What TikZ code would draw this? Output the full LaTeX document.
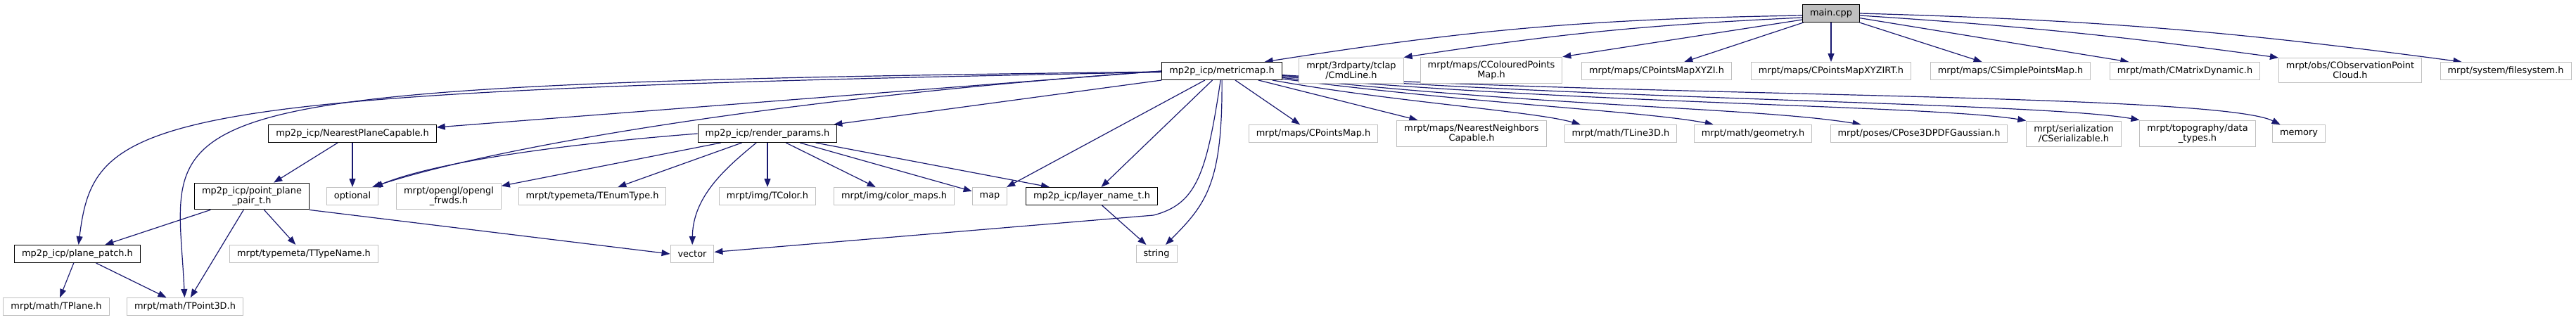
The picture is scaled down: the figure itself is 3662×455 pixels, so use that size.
\documentclass[tikz,border=0pt]{standalone}
\usepackage{fontspec}
\setmainfont{DejaVu Sans}
\usepackage{tikz}
\usetikzlibrary{arrows.meta,backgrounds}
\definecolor{edgeblue}{HTML}{191970}
\definecolor{boxgray}{HTML}{BFBFBF}

\begin{document}
\begin{tikzpicture}[x=1pt, y=-1pt, >={Triangle[length=12pt,width=9pt]},
  hdr/.style={draw=boxgray, line width=1pt, fill=white, align=center, inner xsep=10.5pt,
    inner ysep=5.5pt, minimum height=25pt, font=\fontsize{12.9}{14}\selectfont},
  proj/.style={hdr, draw=black},
  dep/.style={->, draw=edgeblue, line width=1.2pt}]
  \useasboundingbox (0,0) rectangle (3662,455);

  % top row
  \node[proj, fill=boxgray] (main) at (2603,19) {main.cpp};
  \node[proj] (metricmap) at (1737,101) {mp2p\_icp/metricmap.h};
  \node[hdr] (cmdline) at (1921,100) {mrpt/3rdparty/tclap\\/CmdLine.h};
  \node[hdr] (coloured) at (2120,100) {mrpt/maps/CColouredPoints\\Map.h};
  \node[hdr] (xyzi) at (2355,101) {mrpt/maps/CPointsMapXYZI.h};
  \node[hdr] (xyzirt) at (2603,101) {mrpt/maps/CPointsMapXYZIRT.h};
  \node[hdr] (simple) at (2858,101) {mrpt/maps/CSimplePointsMap.h};
  \node[hdr] (cmatrix) at (3106,101) {mrpt/math/CMatrixDynamic.h};
  \node[hdr] (obspc) at (3341,100) {mrpt/obs/CObservationPoint\\Cloud.h};
  \node[hdr] (filesys) at (3562,101) {mrpt/system/filesystem.h};

  % second row
  \node[proj] (npc) at (501,190) {mp2p\_icp/NearestPlaneCapable.h};
  \node[proj] (render) at (1091,190) {mp2p\_icp/render\_params.h};
  \node[hdr] (cpointsmap) at (1867,190) {mrpt/maps/CPointsMap.h};
  \node[hdr] (nncap) at (2092,190) {mrpt/maps/NearestNeighbors\\Capable.h};
  \node[hdr] (tline) at (2304,190) {mrpt/math/TLine3D.h};
  \node[hdr] (geometry) at (2492,190) {mrpt/math/geometry.h};
  \node[hdr] (cpose) at (2728,190) {mrpt/poses/CPose3DPDFGaussian.h};
  \node[hdr] (cserial) at (2948,190) {mrpt/serialization\\/CSerializable.h};
  \node[hdr] (topo) at (3124,190) {mrpt/topography/data\\\_types.h};
  \node[hdr] (memory) at (3268,190) {memory};

  % third row
  \node[proj] (ppp) at (358,279) {mp2p\_icp/point\_plane\\\_pair\_t.h};
  \node[hdr] (optional) at (501,279) {optional};
  \node[hdr] (opengl) at (638,279) {mrpt/opengl/opengl\\\_frwds.h};
  \node[hdr] (tenum) at (842,279) {mrpt/typemeta/TEnumType.h};
  \node[hdr] (tcolor) at (1091,279) {mrpt/img/TColor.h};
  \node[hdr] (colormaps) at (1271,279) {mrpt/img/color\_maps.h};
  \node[hdr] (map) at (1407,279) {map};
  \node[proj] (layer) at (1552,279) {mp2p\_icp/layer\_name\_t.h};

  % bottom rows
  \node[proj] (planepatch) at (110,361) {mp2p\_icp/plane\_patch.h};
  \node[hdr] (ttypename) at (432,361) {mrpt/typemeta/TTypeName.h};
  \node[hdr] (vector) at (984,361) {vector};
  \node[hdr] (string) at (1644,361) {string};
  \node[hdr] (tplane) at (80,436) {mrpt/math/TPlane.h};
  \node[hdr] (tpoint) at (263,436) {mrpt/math/TPoint3D.h};

  \begin{scope}[on background layer]
  % main.cpp
  \draw[dep] ([yshift=-3pt]main.west) to[bend right=4] ([xshift=-25pt]metricmap.north east);
  \draw[dep] ([yshift=-6pt]main.west) to[bend right=3] (cmdline.north east);
  \draw[dep] ([yshift=-9pt]main.west) -- (coloured.north east);
  \draw[dep] (main) -- (xyzi);
  \draw[dep] (main) -- (xyzirt);
  \draw[dep] (main) -- (simple);
  \draw[dep] (main) -- (cmatrix);
  \draw[dep] ([yshift=-3pt]main.east) to[bend left=2] (obspc.north west);
  \draw[dep] (main.east) to[bend left=3] ([xshift=31pt]filesys.north west);

  % metricmap.h, left side
  \draw[dep] (metricmap) .. controls (200,130) and (135,160) .. (planepatch);
  \draw[dep] (metricmap) .. controls (150,120) and (250,150) .. (tpoint);
  \draw[dep] (metricmap.west) -- ([yshift=9pt]npc.east);
  \draw[dep] (metricmap.west) .. controls (1100,140) and (700,210) .. ([xshift=-9pt]optional.north east);
  \draw[dep] (metricmap.south west) -- ([xshift=-5pt]render.north east);
  \draw[dep] (metricmap) .. controls (1715,250) and (1700,290) .. (1640,306) -- (vector);
  \draw[dep] (metricmap) .. controls (1738,260) and (1715,290) .. (string);
  \draw[dep] (metricmap) -- (layer);
  \draw[dep] (metricmap) -- (map);
  % metricmap.h, right side
  \draw[dep] (metricmap) -- (cpointsmap);
  \draw[dep] (metricmap) -- (nncap);
  \draw[dep] (metricmap) .. controls (1980,145) and (2180,158) .. ([xshift=23pt]tline.north west);
  \draw[dep] (metricmap) .. controls (2100,148) and (2340,158) .. ([xshift=28pt]geometry.north west);
  \draw[dep] (metricmap) .. controls (2200,152) and (2500,153) .. ([xshift=44pt]cpose.north west);
  \draw[dep] (metricmap) .. controls (2250,148) and (2750,150) .. (cserial.north west);
  \draw[dep] (metricmap) .. controls (2300,143) and (2900,146) .. (topo.north west);
  \draw[dep] (metricmap) .. controls (2300,138) and (3150,132) .. (memory);

  % NearestPlaneCapable.h
  \draw[dep] (npc) -- (ppp);
  \draw[dep] (npc) -- (optional);

  % render_params.h
  \draw[dep] (render.west) .. controls (800,205) and (620,230) .. ([xshift=-6pt]optional.north east);
  \draw[dep] (render) -- (opengl);
  \draw[dep] (render) -- (tenum);
  \draw[dep] (render) .. controls (1030,240) and (985,280) .. (vector);
  \draw[dep] (render) -- (tcolor);
  \draw[dep] (render) -- (colormaps);
  \draw[dep] (render) -- (map);
  \draw[dep] (render) -- ([xshift=34pt]layer.north west);

  % point_plane_pair_t.h
  \draw[dep] (ppp) -- (planepatch);
  \draw[dep] (ppp) -- (tpoint);
  \draw[dep] (ppp) -- (ttypename);
  \draw[dep] (ppp.south east) -- (vector.west);

  % plane_patch.h and layer_name_t.h
  \draw[dep] (planepatch) -- (tplane);
  \draw[dep] (planepatch) -- (tpoint);
  \draw[dep] (layer) -- (string);
  \end{scope}
\end{tikzpicture}
\end{document}
